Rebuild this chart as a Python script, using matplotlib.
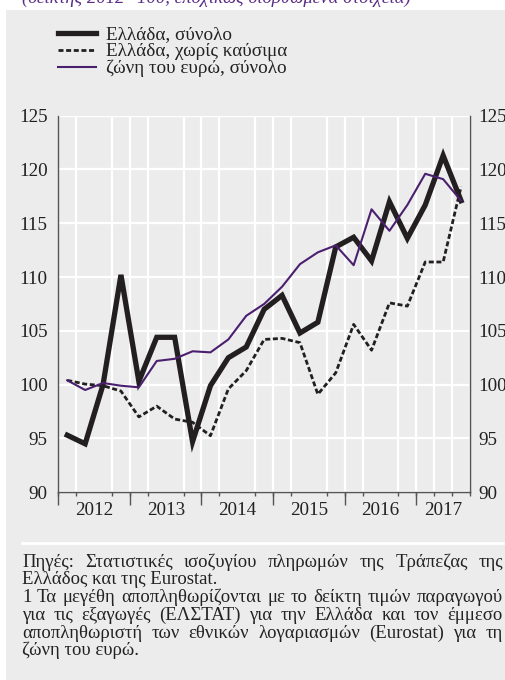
import matplotlib
matplotlib.use("Agg")
import matplotlib.pyplot as plt
from matplotlib.patches import Rectangle
from matplotlib.lines import Line2D
import numpy as np

# ---------------- data ----------------
years = ["2012", "2013", "2014", "2015", "2016", "2017"]
quarters = ["2012Q1", "2012Q2", "2012Q3", "2012Q4", "2013Q1", "2013Q2", "2013Q3", "2013Q4",
            "2014Q1", "2014Q2", "2014Q3", "2014Q4", "2015Q1", "2015Q2", "2015Q3", "2015Q4",
            "2016Q1", "2016Q2", "2016Q3", "2016Q4", "2017Q1", "2017Q2", "2017Q3"]
greece_total = [95.3, 94.5, 100.0, 110.2, 100.3, 104.4, 104.4, 94.7, 99.9, 102.5, 103.5, 107.0,
                108.3, 104.8, 105.8, 112.8, 113.7, 111.5, 117.0, 113.6, 116.7, 121.3, 117.1]
greece_nofuel = [100.4, 100.05, 99.9, 99.4, 97.0, 98.0, 96.8, 96.5, 95.25, 99.6, 101.3, 104.2,
                 104.3, 103.9, 99.1, 101.1, 105.6, 103.2, 107.6, 107.3, 111.4, 111.4, 118.4]
euro_total = [100.4, 99.5, 100.15, 99.9, 99.75, 102.2, 102.4, 103.1, 103.0, 104.2, 106.4, 107.5,
              109.1, 111.2, 112.3, 112.95, 111.1, 116.3, 114.3, 116.7, 119.6, 119.1, 117.1]
series_labels = ["Ελλάδα, σύνολο", "Ελλάδα, χωρίς καύσιμα", "ζώνη του ευρώ, σύνολο"]
y_ticks = [90, 95, 100, 105, 110, 115, 120, 125]
subtitle = "(δείκτης 2012=100, εποχικώς διορθωμένα στοιχεία)"
notes = [
    ("Πηγές: Στατιστικές ισοζυγίου πληρωμών της Τράπεζας της", True),
    ("Ελλάδος και της Eurostat.", False),
    ("1 Τα μεγέθη αποπληθωρίζονται με το δείκτη τιμών παραγωγού", True),
    ("για τις εξαγωγές (ΕΛΣΤΑΤ) για την Ελλάδα και τον έμμεσο", True),
    ("αποπληθωριστή των εθνικών λογαριασμών (Eurostat) για τη", True),
    ("ζώνη του ευρώ.", False),
]

# ---------------- style ----------------
plt.rcParams["font.family"] = ["Liberation Serif", "DejaVu Serif"]
BG = "#ececec"
BLACK = "#231f20"
PURPLE = "#4b1f6f"
SPINE = "#555555"
TXT = "#222222"
TICK_FS = 13.8

W, H = 506, 680
fig = plt.figure(figsize=(W / 100, H / 100), dpi=100)
fig.patch.set_facecolor("white")
fig.add_artist(Rectangle((6 / W, 0), 1 - 6 / W, (H - 10) / H, transform=fig.transFigure,
                         facecolor=BG, edgecolor="none", zorder=0))
fig.add_artist(Line2D([22 / W, 503 / W], [1 - 543 / H] * 2, transform=fig.transFigure,
                      color="white", lw=2, zorder=1))

# subtitle (cut by the top edge as in the reference)
fig.text(22 / W, 1 - 3 / H, subtitle, color="#5b2d86", fontsize=13.5, style="italic",
         va="baseline", ha="left")

left, right, top, bottom = 58.3, 470.0, 115.7, 492.2
ax = fig.add_axes([left / W, 1 - bottom / H, (right - left) / W, (bottom - top) / H])
ax.patch.set_visible(False)

styles = [dict(color=BLACK, lw=3.8, zorder=4, solid_joinstyle="miter"),
          dict(color=BLACK, lw=2.0, ls=(0, (1.8, 0.95)), zorder=3),
          dict(color=PURPLE, lw=1.5, zorder=5)]
n = len(quarters)
x = np.arange(n) + 0.5
for vals, st in zip([greece_total, greece_nofuel, euro_total], styles):
    ax.plot(x, vals, **st)

ax.set_xlim(0, n)
ax.set_ylim(min(y_ticks), max(y_ticks))
ax.set_yticks(y_ticks)
ax.tick_params(axis="y", length=0, pad=7.6, labelsize=TICK_FS, colors=TXT)

# x axis: year labels centred in each year span; quarter ticks; longer year ticks
starts = np.arange(len(years)) * 4
ends = np.minimum(starts + 4, n)
ax.set_xticks((starts + ends) / 2)
ax.set_xticklabels(years)
ax.set_xticks(np.arange(n + 1), minor=True)
ax.tick_params(axis="x", which="major", length=0, pad=7, labelsize=TICK_FS, colors=TXT)
ax.tick_params(axis="x", which="minor", length=3.2, width=1, color=SPINE, direction="out")

sec = ax.secondary_xaxis("bottom")
sec.set_xticks(starts)
sec.tick_params(length=9, width=1, color=SPINE, labelbottom=False)
sec.spines["bottom"].set_color(SPINE)

secy = ax.secondary_yaxis("right")
secy.set_yticks(y_ticks)
secy.tick_params(length=0, pad=6.2, labelsize=TICK_FS, colors=TXT)
secy.spines["right"].set_color(SPINE)

ax.grid(which="minor", axis="x", color="white", lw=1.6, zorder=1)
ax.grid(which="major", axis="y", color="white", lw=1.6, zorder=1)
ax.set_axisbelow(True)
ax.spines["top"].set_visible(False)
for s in ["left", "right", "bottom"]:
    ax.spines[s].set_color(SPINE)
    ax.spines[s].set_linewidth(1)

# legend (drawn by hand for tight rows)
leg_x0, leg_x1, leg_tx = 58 / W, 95.7 / W, 106 / W
for k, (lab, st) in enumerate(zip(series_labels, styles)):
    yl = 33.3 + 17 * k
    st2 = {kk: v for kk, v in st.items() if kk != "zorder"}
    fig.add_artist(Line2D([leg_x0, leg_x1], [1 - yl / H] * 2, transform=fig.transFigure, **st2))
    fig.text(leg_tx, 1 - (yl + 5.7) / H, lab, fontsize=13.8, va="baseline", ha="left", color=TXT)

# notes, justified lines
renderer = fig.canvas.get_renderer()
x0, x1 = 22.0, 503.0
base0, step = 566.7, 17.7
NFS = 13.5
for k, (line, justify) in enumerate(notes):
    yb = 1 - (base0 + k * step) / H
    if not justify:
        fig.text(x0 / W, yb, line, fontsize=NFS, va="baseline", ha="left", color=TXT)
        continue
    words = line.split(" ")
    ts = [fig.text(0, yb, w_, fontsize=NFS, va="baseline", ha="left", color=TXT)
          for w_ in words]
    widths = [t.get_window_extent(renderer).width for t in ts]
    gap = ((x1 - x0) - sum(widths)) / (len(words) - 1)
    cx = x0
    for t, wd in zip(ts, widths):
        t.set_x(cx / W)
        cx += wd + gap

fig.savefig("out.png", dpi=100, facecolor=fig.get_facecolor())
